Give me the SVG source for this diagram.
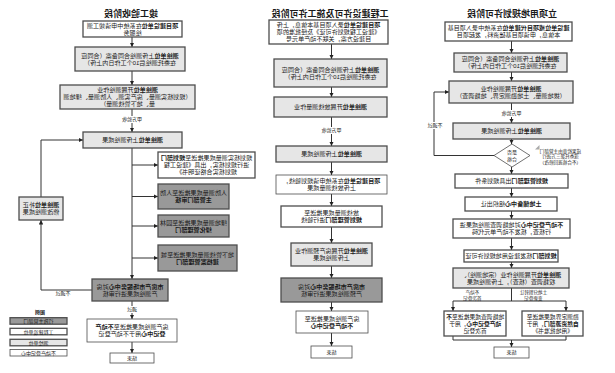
<svg xmlns="http://www.w3.org/2000/svg" width="615" height="373" viewBox="0 0 615 373" lang="zh-CN">
<style>
.b{stroke:#4d4d4d;stroke-width:1.3}
.w{fill:#fff}
.l{fill:#e6e6e6}
.d{fill:#999}
.t{stroke-width:0.8}
.c{fill:none;stroke:#333;stroke-width:1}
.a{marker-end:url(#ah)}
text{font-family:"Liberation Sans","Noto Sans CJK SC",sans-serif;font-size:6.1px;fill:#1a1a1a;text-anchor:middle;transform-box:fill-box;transform-origin:center;transform:scaleX(-1)}
.h{font-size:9px;font-weight:bold}
.s{font-size:5px}
.n{font-size:4.6px}
.m{font-size:5.8px}
.k{font-weight:bold}
</style>
<defs>
<marker id="ah" viewBox="0 0 6 6" refX="6" refY="3" markerWidth="4.5" markerHeight="4.5" markerUnits="userSpaceOnUse" orient="auto"><path d="M0,0L6,3L0,6z" fill="#222"/></marker>
</defs>
<rect width="615" height="373" fill="#fff"/>

<g id="titles">
<text class="h" x="131" y="17.4">竣工验收阶段</text>
<text class="h" x="330" y="17.4">工程建设许可及施工许可阶段</text>
<text class="h" x="512" y="17.4">立项用地规划许可阶段</text>
</g>

<g id="connectors">
<path class="c a" d="M132,37V47"/>
<path class="c a" d="M132,71V85"/>
<path class="c a" d="M132,109V132"/>
<path class="c a" d="M132,148V279"/>
<path class="c a" d="M132,165H158"/>
<path class="c a" d="M132,196.5H158"/>
<path class="c a" d="M132,226H158"/>
<path class="c a" d="M132,258H158"/>
<path class="c a" d="M92,290H41V220"/>
<path class="c a" d="M41,197V140H83"/>
<path class="c a" d="M132,301V319"/>
<path class="c a" d="M132,342V353"/>

<path class="c a" d="M331.5,44V59"/>
<path class="c a" d="M331.5,87V97"/>
<path class="c a" d="M331.5,117V146"/>
<path class="c a" d="M331.5,162V175"/>
<path class="c a" d="M331.5,194V206"/>
<path class="c a" d="M331.5,227V243"/>
<path class="c a" d="M331.5,266V278"/>
<path class="c a" d="M331.5,302V311"/>
<path class="c a" d="M331.5,333V346"/>

<path class="c a" d="M511.5,41V53"/>
<path class="c a" d="M511.5,72V81"/>
<path class="c a" d="M511.5,103V123"/>
<path class="c a" d="M511.5,139V144"/>
<path class="c a" d="M494,155.5H434V92H449"/>
<path class="c a" d="M511.5,167V174"/>
<path class="c a" d="M511.5,188V197"/>
<path class="c a" d="M511.5,211V219"/>
<path class="c a" d="M511.5,238V250"/>
<path class="c a" d="M511.5,262V268"/>
<path class="c" d="M511.5,288V301M453,301H566"/>
<path class="c a" d="M453,301V311"/>
<path class="c a" d="M566,301V311"/>
<path class="c" d="M453,336V340H566V336"/>
<path class="c a" d="M511.5,340V347"/>

<rect x="121" y="116" width="22" height="7" fill="#fff"/>
<text class="s" x="132" y="121.4">甲方验收</text>
<text class="s" x="63" y="295.4">不通过</text>
<rect x="125" y="306" width="14" height="7" fill="#fff"/>
<text class="s" x="132" y="311.4">通过</text>
<rect x="320.5" y="127" width="22" height="7" fill="#fff"/>
<text class="s" x="331.5" y="132.4">甲方验收</text>
<rect x="500.5" y="110" width="22" height="7" fill="#fff"/>
<text class="s" x="511.5" y="115.4">甲方验收</text>
<rect x="427" y="122" width="16" height="7" fill="#fff"/>
<text class="s" x="435" y="127.4">不通过</text>
<text class="n" x="472" y="294.2"><tspan x="472">不动产</tspan><tspan x="472" dy="5.3">首次登记</tspan></text>
<text class="n" x="533" y="294.2"><tspan x="533">土地分割转让</tspan><tspan x="533" dy="5.3">变更登记</tspan></text>
</g>

<g id="L1"><rect class="b w" x="83" y="21" width="99" height="16"/>
<text x="132.5" y="27.8"><tspan x="132.5"><tspan class="k">项目建设单位</tspan>在系统中申请竣工测</tspan><tspan x="132.5" dy="7">绘服务</tspan></text></g>
<g id="L2"><rect class="b l" x="75" y="47" width="110" height="24"/>
<text x="130" y="57.8"><tspan x="130"><tspan class="k">测绘单位</tspan>上传测绘合同备案（合同应</tspan><tspan x="130" dy="7">在委托测绘后10个工作日内上传）</tspan></text></g>
<g id="L3"><rect class="b l" x="60" y="85" width="135" height="24"/>
<text x="127.5" y="92.3"><tspan x="127.5"><tspan class="k">测绘单位</tspan>开展测绘作业</tspan><tspan x="127.5" dy="7">（规划核实测量、房产实测、人防测量、绿地测</tspan><tspan x="127.5" dy="7">量、地下管线测量）</tspan></text></g>
<g id="L4"><rect class="b l" x="83" y="132" width="99" height="16"/>
<text x="132.5" y="142.3"><tspan class="k">测绘单位</tspan>上传测绘成果</text></g>
<g id="LA"><rect class="b w" x="158" y="152" width="97" height="26"/>
<text x="206.5" y="160.3"><tspan x="206.5">规划核实测量成果推送至<tspan class="k">规划部门</tspan></tspan><tspan x="206.5" dy="7">进行规划核实，出具《建设工程</tspan><tspan x="206.5" dy="7">规划核实合格证明书》</tspan></text></g>
<g id="LB"><rect class="b d" x="158" y="184" width="71" height="25"/>
<text x="193.5" y="195.3"><tspan x="193.5">人防测量成果推送至人防</tspan><tspan x="193.5" dy="7" class="k">主管部门审核</tspan></text></g>
<g id="LC"><rect class="b d" x="158" y="215" width="71" height="22"/>
<text x="193.5" y="224.8"><tspan x="193.5">绿地测量成果推送至园林</tspan><tspan x="193.5" dy="7" class="k">绿化管理部门</tspan></text></g>
<g id="LD"><rect class="b d" x="158" y="245" width="79" height="26"/>
<text x="197.5" y="256.8"><tspan x="197.5">地下管线测量成果推送至城</tspan><tspan x="197.5" dy="7" class="k">建档案管理部门</tspan></text></g>
<g id="Lloop"><rect class="b l" x="19" y="197" width="44" height="23"/>
<text x="41" y="207.3"><tspan x="41"><tspan class="k">测绘单位</tspan>补正</tspan><tspan x="41" dy="7">修改测绘成果</tspan></text></g>
<g id="L5"><rect class="b d" x="92" y="279" width="76" height="22"/>
<text x="130" y="288.8"><tspan x="130"><tspan class="k">市房产市场服务中心</tspan>对房</tspan><tspan x="130" dy="7">产测绘成果进行审核</tspan></text></g>
<g id="L6"><rect class="b w t" x="87" y="319" width="90" height="23"/>
<text x="132" y="329.3"><tspan x="132">房产测绘成果推送至<tspan class="k">不动产</tspan></tspan><tspan x="132" dy="7"><tspan class="k">登记中心</tspan>用于不动产登记</tspan></text></g>
<g id="Lend"><rect class="b w t" x="110" y="353" width="44" height="10"/>
<text class="s" x="132" y="359.9">结束</text></g>

<g id="legend">
<text class="s k" x="40" y="314">图例</text>
<rect class="b d" x="10" y="317.7" width="57" height="6.5"/>
<text class="s" x="38.5" y="322.9">行政主管部门</text>
<rect class="b w" x="10" y="328.3" width="57" height="6.5"/>
<text class="s" x="38.5" y="333.5">工程建设单位</text>
<rect class="b l" x="10" y="339.3" width="57" height="6.5"/>
<text class="s" x="38.5" y="344.5">测绘单位</text>
<rect class="b w t" x="10" y="349.5" width="57" height="6.5"/>
<text class="s" x="38.5" y="354.7">不动产登记中心</text>
</g>

<g id="M1"><rect class="b w" x="269" y="20" width="119" height="24"/>
<text x="328.5" y="27.3"><tspan x="328.5"><tspan class="k">项目建设单位</tspan>录入项目基本信息，上传</tspan><tspan x="328.5" dy="7">《建设工程规划许可证》及经批准的项</tspan><tspan x="328.5" dy="7">目建设方案，关联不动产单元号</tspan></text></g>
<g id="M2"><rect class="b l" x="274" y="59" width="113" height="28"/>
<text x="330.5" y="71.8"><tspan x="330.5"><tspan class="k">测绘单位</tspan>上传测绘合同备案（合同应</tspan><tspan x="330.5" dy="7">在委托测绘后10个工作日内上传）</tspan></text></g>
<g id="M3"><rect class="b l" x="274" y="97" width="113" height="20"/>
<text x="330.5" y="109.3"><tspan class="k">测绘单位</tspan>开展放线测量作业</text></g>
<g id="M4"><rect class="b l" x="276" y="146" width="111" height="16"/>
<text x="331.5" y="156.3"><tspan class="k">测绘单位</tspan>上传测绘成果</text></g>
<g id="M5"><rect class="b w t" x="276" y="175" width="111" height="19"/>
<text x="331.5" y="183.3"><tspan x="331.5"><tspan class="k">项目建设单位</tspan>在系统申请规划验线，</tspan><tspan x="331.5" dy="7">上传放线测量成果</tspan></text></g>
<g id="M6"><rect class="b w" x="281" y="206" width="101" height="21"/>
<text x="331.5" y="215.3"><tspan x="331.5">放线测量成果推送至</tspan><tspan x="331.5" dy="7"><tspan class="k">规划管理部门</tspan>进行验线</tspan></text></g>
<g id="M7"><rect class="b l" x="291" y="243" width="81" height="23"/>
<text x="331.5" y="253.3"><tspan x="331.5"><tspan class="k">测绘单位</tspan>开展房产预测作业</tspan><tspan x="331.5" dy="7">上传测绘成果</tspan></text></g>
<g id="M8"><rect class="b d" x="281" y="278" width="101" height="24"/>
<text x="331.5" y="288.8"><tspan x="331.5"><tspan class="k">市房产市场服务中心</tspan>对房</tspan><tspan x="331.5" dy="7">产预测绘成果进行审核</tspan></text></g>
<g id="M9"><rect class="b w t" x="296" y="311" width="72" height="22"/>
<text x="332" y="320.8"><tspan x="332">房产测绘成果推送至</tspan><tspan x="332" dy="7" class="k">不动产登记中心</tspan></text></g>
<g id="Mend"><rect class="b w t" x="311" y="346" width="41" height="12"/>
<text class="s" x="331.5" y="353.9">结束</text></g>

<g id="R1"><rect class="b w" x="445" y="22" width="127" height="19"/>
<text x="508.5" y="30.3"><tspan x="508.5"><tspan class="k">建设单位或项目代建单位</tspan>在系统中录入项目基</tspan><tspan x="508.5" dy="7">本信息，申请项目基础资料，发起项目</tspan></text></g>
<g id="R2"><rect class="b l" x="454" y="53" width="113" height="19"/>
<text x="510.5" y="61.3"><tspan x="510.5"><tspan class="k">测绘单位</tspan>上传测绘合同备案（合同应</tspan><tspan x="510.5" dy="7">在委托测绘后10个工作日内上传）</tspan></text></g>
<g id="R3"><rect class="b l" x="449" y="81" width="124" height="22"/>
<text x="511" y="90.8"><tspan x="511"><tspan class="k">测绘单位</tspan>开展测绘作业</tspan><tspan x="511" dy="7">（拨地测量、土地勘测定界、地籍调查）</tspan></text></g>
<g id="R4"><rect class="b l" x="453" y="123" width="117" height="16"/>
<text x="511.5" y="133.3"><tspan class="k">测绘单位</tspan>上传测绘成果</text></g>
<g id="Rdec"><polygon class="b w t" points="512,144 530,155.5 512,167 494,155.5"/>
<text class="s" x="512" y="154.4"><tspan x="512">是否</tspan><tspan x="512" dy="6.3">合格</tspan></text></g>
<g id="Rnote">
<polygon points="535,149.5 539.5,145 539.5,149.5" fill="#aaa"/>
<text class="n" x="560" y="152.7"><tspan x="560">成果检查由主管部门</tspan><tspan x="560" dy="5.5">或委托第三方进行</tspan><tspan x="560" dy="5.5">（不合格退回修改）</tspan></text></g>
<g id="R5"><rect class="b w" x="455" y="174" width="113" height="14"/>
<text x="511.5" y="183.3"><tspan class="k">规划管理部门</tspan>出具规划条件</text></g>
<g id="R6"><rect class="b w" x="465" y="197" width="92" height="14"/>
<text x="511" y="206.3"><tspan class="k">土地储备中心</tspan>组织出让</text></g>
<g id="R7"><rect class="b w" x="453" y="219" width="117" height="19"/>
<text x="511.5" y="227.3"><tspan x="511.5"><tspan class="k">不动产登记中心</tspan>对地籍调查测绘成果进</tspan><tspan x="511.5" dy="7">行核查，核发不动产单元代码</tspan></text></g>
<g id="R8"><rect class="b w" x="464" y="250" width="94" height="12"/>
<text x="511" y="258.3"><tspan class="k">规划部门</tspan>核发建设用地规划许可证</text></g>
<g id="R9"><rect class="b l" x="453" y="268" width="116" height="20"/>
<text x="511" y="276.8"><tspan x="511"><tspan class="k">测绘单位</tspan>开展测绘作业（宗地测绘）、</tspan><tspan x="511" dy="7">权籍调查（核查），上传测绘成果</tspan></text></g>
<g id="R10L"><rect class="b w" x="444" y="311" width="62" height="25"/>
<text class="m" x="475" y="318.6"><tspan x="475">地籍调查成果推送至<tspan class="k">不</tspan></tspan><tspan x="475" dy="7"><tspan class="k">动产登记中心</tspan>，用于</tspan><tspan x="475" dy="7">首次登记</tspan></text></g>
<g id="R10R"><rect class="b w" x="522" y="311" width="61" height="25"/>
<text class="m" x="552.5" y="318.6"><tspan x="552.5">勘测定界成果推送至</tspan><tspan x="552.5" dy="7"><tspan class="k">自然资源部门</tspan>，用于</tspan><tspan x="552.5" dy="7">《用地批准书》</tspan></text></g>
<g id="Rend"><rect class="b w t" x="494" y="347" width="35" height="11"/>
<text class="s" x="511.5" y="354.4">结束</text></g>
</svg>
